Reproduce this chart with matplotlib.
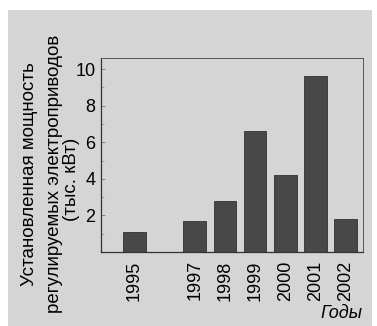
import matplotlib.pyplot as plt
from matplotlib.patches import Rectangle
from matplotlib.ticker import MultipleLocator

# Data
years = [1995, 1997, 1998, 1999, 2000, 2001, 2002]
power = [1.1, 1.7, 2.8, 6.6, 4.2, 9.6, 1.8]
y_ticks = [2, 4, 6, 8, 10]

paper = '#d5d5d5'
bar_color = '#484848'

plt.rcParams['font.family'] = ['Liberation Sans', 'DejaVu Sans']

fig = plt.figure(figsize=(3.77, 3.26), dpi=100)
fig.patch.set_facecolor('white')

# scanned page area
fig.patches.append(Rectangle((8 / 377, 0), 364 / 377, 316 / 326,
                             transform=fig.transFigure, facecolor=paper,
                             edgecolor='none', zorder=-5))

ax = fig.add_axes([0.268, 0.227, 0.695, 0.595])
ax.set_zorder(2)
ax.set_facecolor(paper)

ax.bar(years, power, width=0.75, color=bar_color, edgecolor='#303030', linewidth=0.6)

ax.set_xlim(1993.9, 2002.57)
ax.set_ylim(0, 10.6)
ax.set_yticks(y_ticks)
ax.yaxis.set_minor_locator(MultipleLocator(1))
ax.set_xticks(years)
ax.set_xticklabels([str(y) for y in years], rotation=90, fontsize=13)
ax.tick_params(axis='y', which='major', direction='in', length=3, width=0.6,
               color='#777777', labelsize=13, pad=4)
ax.tick_params(axis='y', which='minor', direction='in', length=2, width=0.5,
               color='#888888')
ax.tick_params(axis='x', length=0, pad=6)

for name in ['left', 'bottom']:
    ax.spines[name].set_color('#333333')
    ax.spines[name].set_linewidth(0.9)
for name in ['top', 'right']:
    ax.spines[name].set_color('#555555')
    ax.spines[name].set_linewidth(0.7)

# y axis label, three lines
fig.text(30 / 377, 1 - 174 / 326, 'Установленная мощность', rotation=90,
         ha='center', va='center', fontsize=13.5)
fig.text(55 / 377, 1 - 174 / 326, 'регулируемых электроприводов', rotation=90,
         ha='center', va='center', fontsize=13.5)
fig.text(72 / 377, 1 - 179 / 326, '(тыс. кВт)', rotation=90,
         ha='center', va='center', fontsize=13.5)

fig.text(362 / 377, 1 - 313 / 326, 'Годы', ha='right', va='center',
         fontsize=13, style='italic')

fig.savefig('out.png', dpi=100, facecolor=fig.get_facecolor())
